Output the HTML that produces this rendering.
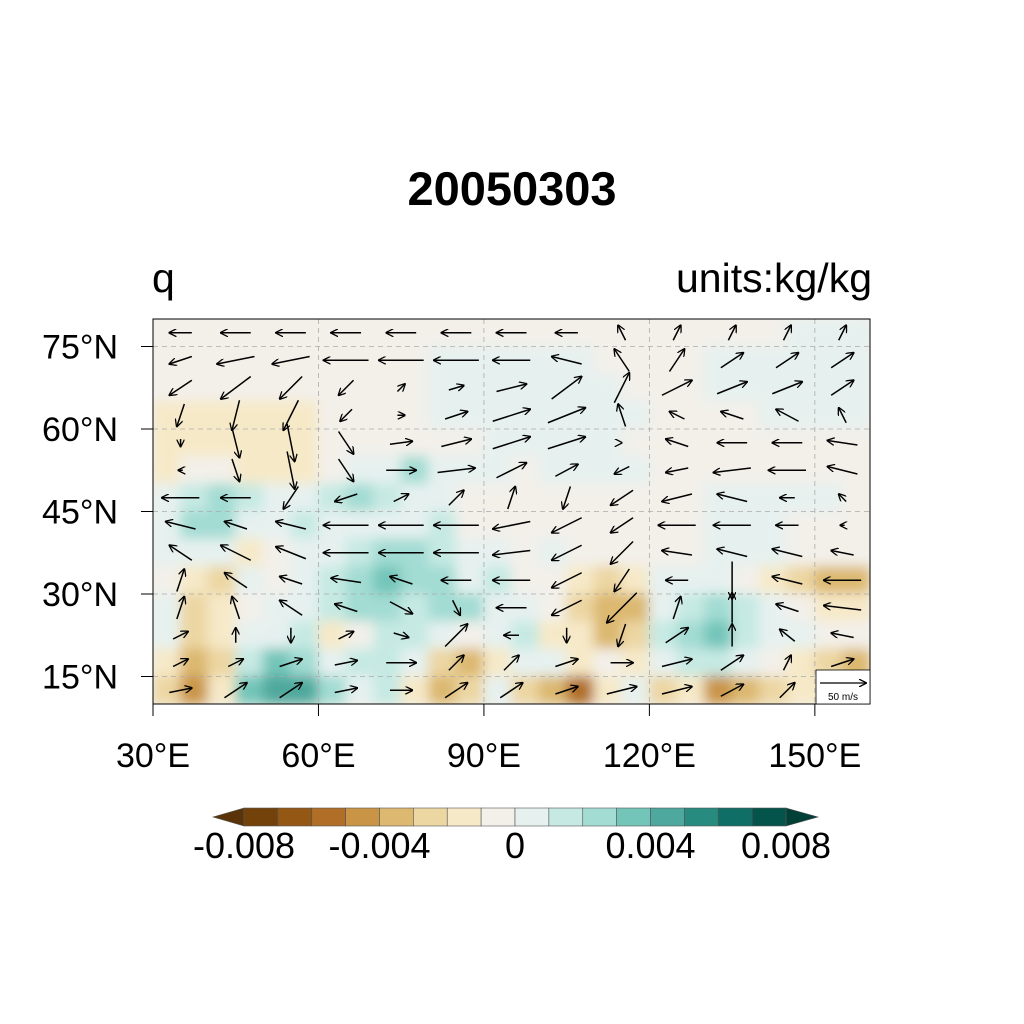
<!DOCTYPE html>
<html><head><meta charset="utf-8"><style>
body{margin:0;background:#fff;}
svg{display:block;font-family:"Liberation Sans",sans-serif;}
</style></head><body>
<svg id="chart" width="1024" height="1024" viewBox="0 0 1024 1024">
<defs>
<filter id="bl" x="-5%" y="-5%" width="110%" height="110%"><feGaussianBlur stdDeviation="6" edgeMode="duplicate"/></filter>
<clipPath id="mapclip"><rect x="153" y="319" width="717" height="385"/></clipPath>
<marker id="ah" viewBox="0 0 10 10" refX="9" refY="5" markerWidth="8" markerHeight="8" orient="auto" markerUnits="userSpaceOnUse"><path d="M0,0 L10,5 L0,10" fill="none" stroke="#000" stroke-width="1.6"/></marker>
</defs>
<text x="512" y="205" text-anchor="middle" font-size="47" font-weight="bold">20050303</text>
<text x="152" y="292" font-size="41">q</text>
<text x="872" y="292" font-size="41" text-anchor="end">units:kg/kg</text>
<rect x="153" y="319" width="717" height="385" fill="#f3f0ea"/>
<g clip-path="url(#mapclip)"><g id="field" filter="url(#bl)"></g></g>
<g id="grid"></g>
<g id="vectors" clip-path="url(#mapclip)"></g>
<rect x="153" y="319" width="717" height="385" fill="none" stroke="#000" stroke-width="1"/>
<g id="axes"></g>
<g>
<rect x="816" y="670" width="54" height="34" fill="#fff" stroke="#000" stroke-width="0.8"/>
<line x1="820" y1="683" x2="866" y2="683" stroke="#000" stroke-width="1.2" marker-end="url(#ah)"/>
<text x="843" y="700" font-size="10" text-anchor="middle">50 m/s</text>
</g>
<g id="cbar"></g>
</svg>
<script>
const NS="http://www.w3.org/2000/svg";
const lonMin=30,lonMax=160,latMin=10,latMax=80;
const X0=153,X1=870,Y0=319,Y1=704;
function xs(lon){return X0+(lon-lonMin)/(lonMax-lonMin)*(X1-X0);}
function ys(lat){return Y0+(latMax-lat)/(latMax-latMin)*(Y1-Y0);}
function mk(t,a,p){const e=document.createElementNS(NS,t);for(const k in a)e.setAttribute(k,a[k]);(p||document.getElementById('chart')).appendChild(e);return e;}

const levelColors=["#5a3408","#73420b","#955714","#b06e26","#c99446","#dcb870","#ecd6a2","#f6e9c8","#f3f0ea","#e6f1ef","#c6e9e3","#a2dcd3","#73c5b9","#4fa89d","#288b80","#0f6e66","#05544b","#023f37"];
const levelLabels=["-0.008","-0.004","0","0.004","0.008"];
const labelBoundaries=[0,4,8,12,16];
const charLevel={"e":3,"d":4,"c":5,"=":6,"-":7,".":8,"+":9,"2":10,"3":11,"4":12,"5":13,"6":14};
// humidity anomaly classes per 5° cell, rows 80N->10N, cols 30E->160E
const fieldRows=[
".......................+++",
"..........++++++....++++++",
"..........+++++++...++++++",
"------....++++++++....++++",
"------......+++++.........",
"-..---.++3+++.++++........",
"+232++232++.........+++++.",
"+33++2++++2.........+++...",
"+++-.++2332++.+.....+++...",
".-=+.+23433+2..-=-+++.-=cc",
"+=-.++233233++.=cc+232+.--",
"+=-++2-.22+.+2--c=2342++..",
"-c=243+22+=c-++-.-+22+.-=c",
"=d-4553+2-c=+=ce-+=-dc=--c"];

const vLons=[35,45,55,65,75,85,95,105,115,125,135,145,155];
const vLats=[77.5,72.5,67.5,62.5,57.5,52.5,47.5,42.5,37.5,32.5,27.5,22.5,17.5,12.5];
const uRows=[
[-15,-20,-20,-20,-20,-20,-20,-15,-5,5,5,5,5],
[-15,-25,-25,-30,-30,-30,-25,-20,-10,10,15,15,15],
[-15,-20,-15,-10,5,10,20,20,10,20,20,20,15],
[-5,-5,-10,-8,5,15,25,25,-5,-10,-15,-15,-5],
[0,5,5,10,15,20,25,25,0,-15,-20,-20,-20],
[-3,5,5,10,20,25,20,15,-10,-15,-25,-25,-20],
[-25,-20,-10,-15,10,10,5,-5,-15,-20,-20,-10,-5],
[-20,-15,-20,-30,-30,-30,-25,-20,-15,-25,-25,-15,-3],
[-15,-20,-20,-30,-30,-30,-25,-20,-15,-20,-20,-20,-15],
[5,-15,-15,-20,-15,-20,-25,-20,-10,-15,0,-20,-25],
[5,-5,-15,-15,15,5,-20,-20,-20,5,0,-15,-25],
[10,0,0,10,10,15,-10,0,-5,15,0,-10,-15],
[10,10,15,15,20,10,10,15,15,20,15,5,15],
[15,15,15,15,15,15,15,15,20,20,15,10,10]];
const vRows=[
[0,0,0,0,0,0,0,0,10,10,10,10,10],
[-5,-5,-5,0,0,0,0,5,15,15,10,10,10],
[-10,-15,-15,-10,5,3,5,15,20,10,8,8,10],
[-15,-20,-20,-8,0,5,8,10,15,5,5,8,10],
[-5,-20,-25,-15,2,5,8,8,0,5,0,0,3],
[0,-15,-25,-15,0,3,10,8,-5,-3,-3,0,5],
[0,0,-15,-5,5,10,15,-15,-10,-5,5,0,5],
[5,5,5,0,0,0,-5,-10,-10,0,0,0,0],
[10,10,8,0,0,0,-3,-10,-15,3,5,5,3],
[15,10,5,3,5,0,0,-10,-15,0,-25,5,0],
[15,15,10,5,-8,-10,0,-10,-20,15,20,5,3],
[5,10,-10,5,-3,15,0,-10,-15,10,15,8,3],
[5,5,5,3,0,10,10,5,0,5,10,10,5],
[3,10,10,3,0,10,10,5,5,5,8,10,10]];
const pxPerMS=1.5;

// field
const fg=document.getElementById('field');
fieldRows.forEach((row,r)=>{
  for(let c=0;c<row.length;c++){
    const lvl=charLevel[row[c]];
    const lon=lonMin+c*5, lat=latMax-r*5;
    const el=mk('rect',{x:xs(lon)-0.5,y:ys(lat)-0.5,width:xs(lon+5)-xs(lon)+1,height:ys(lat-5)-ys(lat)+1,fill:levelColors[lvl]},fg);
    
    
  }
});
// gridlines
const gg=document.getElementById('grid');
[60,90,120,150].forEach(lon=>mk('line',{x1:xs(lon),y1:Y0,x2:xs(lon),y2:Y1,stroke:"#aaa","stroke-width":0.8,"stroke-dasharray":"5,4"},gg));
[15,30,45,60,75].forEach(lat=>mk('line',{x1:X0,y1:ys(lat),x2:X1,y2:ys(lat),stroke:"#aaa","stroke-width":0.8,"stroke-dasharray":"5,4"},gg));
// vectors
const vg=document.getElementById('vectors');
vLats.forEach((lat,r)=>{vLons.forEach((lon,c)=>{
  const u=uRows[r][c],v=vRows[r][c];
  const cx=xs(lon),cy=ys(lat),dx=u*pxPerMS,dy=-v*pxPerMS;
  const el=mk('line',{x1:cx-dx/2,y1:cy-dy/2,x2:cx+dx/2,y2:cy+dy/2,stroke:"#000","stroke-width":1.5,"marker-end":"url(#ah)"},vg);
  
  
});});
// axes
const ag=document.getElementById('axes');
const latTicks=[15,30,45,60,75],lonTicks=[30,60,90,120,150];
latTicks.forEach(lat=>{
  mk('line',{x1:X0-12,y1:ys(lat),x2:X0,y2:ys(lat),stroke:"#000","stroke-width":1},ag);
  const t=mk('text',{x:118,y:ys(lat)+12,"font-size":34,"text-anchor":"end"},ag);t.textContent=lat+"°N";
  
});
lonTicks.forEach(lon=>{
  mk('line',{x1:xs(lon),y1:Y1,x2:xs(lon),y2:Y1+12,stroke:"#000","stroke-width":1},ag);
  const t=mk('text',{x:xs(lon),y:767,"font-size":34,"text-anchor":"middle"},ag);t.textContent=lon+"°E";
  
});
// colorbar
const cg=document.getElementById('cbar');
const cbL=244,cbR=786,cbT=808,cbB=826,nBox=16,bw=(cbR-cbL)/nBox;
mk('path',{d:`M${cbL},${cbT} L213,${(cbT+cbB)/2} L${cbL},${cbB}Z`,fill:levelColors[0],stroke:"#555","stroke-width":0.6},cg);
mk('path',{d:`M${cbR},${cbT} L818,${(cbT+cbB)/2} L${cbR},${cbB}Z`,fill:levelColors[17],stroke:"#555","stroke-width":0.6},cg);
for(let i=0;i<nBox;i++){
  const el=mk('rect',{x:cbL+i*bw,y:cbT,width:bw,height:cbB-cbT,fill:levelColors[i+1],stroke:"#555","stroke-width":0.6},cg);
  
}
levelLabels.forEach((lab,i)=>{
  const t=mk('text',{x:cbL+labelBoundaries[i]*bw,y:858,"font-size":36,"text-anchor":"middle"},cg);t.textContent=lab;
  
});
</script>
</body></html>
